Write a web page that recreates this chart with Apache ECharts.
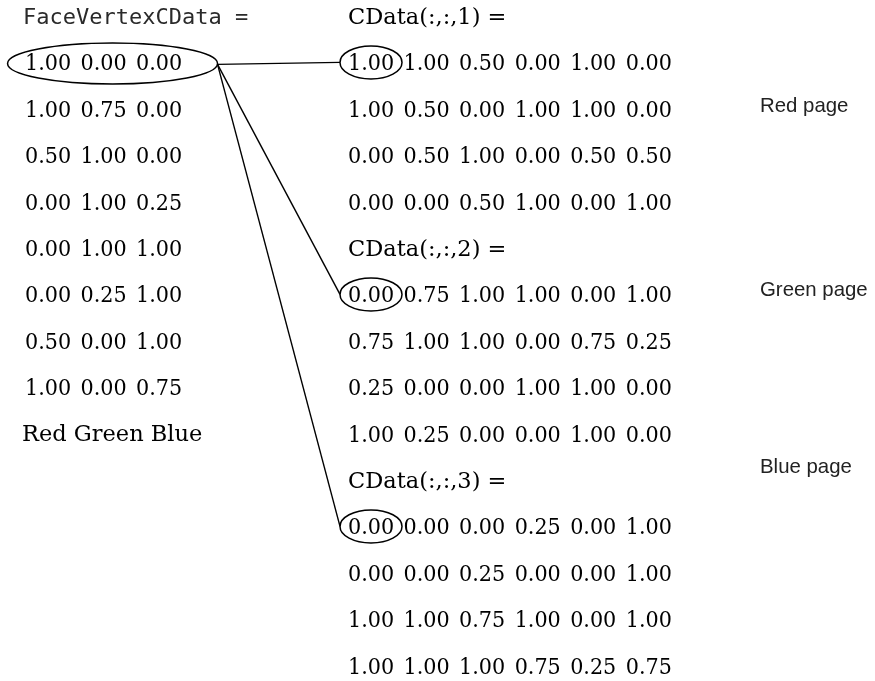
<!DOCTYPE html>
<html><head><meta charset="utf-8">
<script src="https://cdn.jsdelivr.net/npm/echarts@6/dist/echarts.min.js"></script>
<style>html,body{margin:0;padding:0;background:#fff}#chart{width:875px;height:681px}</style>
</head><body><div id="chart"></div>
<script>
// ---------------- data ----------------
const faceVertexTitle = 'FaceVertexCData =';
const faceVertexCData = [
  [1.00, 0.00, 0.00],
  [1.00, 0.75, 0.00],
  [0.50, 1.00, 0.00],
  [0.00, 1.00, 0.25],
  [0.00, 1.00, 1.00],
  [0.00, 0.25, 1.00],
  [0.50, 0.00, 1.00],
  [1.00, 0.00, 0.75]
];
const channelNames = ['Red', 'Green', 'Blue'];
const pageTitles = ['CData(:,:,1) =', 'CData(:,:,2) =', 'CData(:,:,3) ='];
const pageLabels = ['Red page', 'Green page', 'Blue page'];
const cdataRed = [
  [1.00, 1.00, 0.50, 0.00, 1.00, 0.00],
  [1.00, 0.50, 0.00, 1.00, 1.00, 0.00],
  [0.00, 0.50, 1.00, 0.00, 0.50, 0.50],
  [0.00, 0.00, 0.50, 1.00, 0.00, 1.00]
];
const cdataGreen = [
  [0.00, 0.75, 1.00, 1.00, 0.00, 1.00],
  [0.75, 1.00, 1.00, 0.00, 0.75, 0.25],
  [0.25, 0.00, 0.00, 1.00, 1.00, 0.00],
  [1.00, 0.25, 0.00, 0.00, 1.00, 0.00]
];
const cdataBlue = [
  [0.00, 0.00, 0.00, 0.25, 0.00, 1.00],
  [0.00, 0.00, 0.25, 0.00, 0.00, 1.00],
  [1.00, 1.00, 0.75, 1.00, 0.00, 1.00],
  [1.00, 1.00, 1.00, 0.75, 0.25, 0.75]
];
const pages = [cdataRed, cdataGreen, cdataBlue];

// ---------------- layout ----------------
const W = 875, H = 681;
const ROW_PITCH = 46.4, ROW0_Y = 18;
const Y_MIN = -ROW0_Y / ROW_PITCH, Y_MAX = Y_MIN + H / ROW_PITCH;
const LEFT_X0 = 25, RIGHT_X0 = 348, COL_PITCH = 55.55, NUM_W = 46;
const PAGE_LABEL_X = 760;
const PAGE_LABEL_ROWS = [1.9, 5.86, 9.68];
const ROWS_PER_PAGE = 5;

const SERIF = '23px "DejaVu Serif Condensed", "DejaVu Serif", serif';
const SERIF_LABEL = '22.5px "DejaVu Serif", serif';
const MONO = '22px "DejaVu Sans Mono"';
const SANS = '20.4px "Liberation Sans"';

const textItems = [];
textItems.push({x: LEFT_X0 - 2, y: 0, text: faceVertexTitle, font: MONO, color: '#2a2a2a'});
faceVertexCData.forEach((row, r) => row.forEach((v, c) => {
  textItems.push({x: LEFT_X0 + c * COL_PITCH, y: r + 1, text: v.toFixed(2), font: SERIF, color: '#000'});
}));
textItems.push({x: LEFT_X0 - 3, y: faceVertexCData.length + 1, text: channelNames.join(' '), font: SERIF_LABEL, color: '#000'});
pages.forEach((page, p) => {
  const base = p * ROWS_PER_PAGE;
  textItems.push({x: RIGHT_X0, y: base, text: pageTitles[p], font: SERIF_LABEL, color: '#000'});
  page.forEach((row, r) => row.forEach((v, c) => {
    textItems.push({x: RIGHT_X0 + c * COL_PITCH, y: base + r + 1, text: v.toFixed(2), font: SERIF, color: '#000'});
  }));
  textItems.push({x: PAGE_LABEL_X, y: PAGE_LABEL_ROWS[p], text: pageLabels[p], font: SANS, color: '#222'});
});

// ellipses: the first FaceVertexCData row and the first element of each page
const leftEllipse = {x: LEFT_X0 + (2 * COL_PITCH + NUM_W) / 2 + 9, y: 1, rx: 105, ry: 20.5, dy: -1};
const rightEllipses = pages.map((_, p) => ({x: RIGHT_X0 + NUM_W / 2, y: p * ROWS_PER_PAGE + 1, rx: 31, ry: 16.5, dy: -2}));
const ellipses = [leftEllipse].concat(rightEllipses);

const chart = echarts.init(document.getElementById('chart'), null, {renderer: 'canvas'});
chart.setOption({
  animation: false,
  backgroundColor: '#fff',
  grid: {left: 0, right: 0, top: 0, bottom: 0},
  xAxis: {type: 'value', min: 0, max: W, show: false},
  yAxis: {type: 'value', min: Y_MIN, max: Y_MAX, inverse: true, show: false},
  series: [
    {
      type: 'custom', silent: true,
      data: rightEllipses.map(e => [e.x, e.y]),
      renderItem: (params, api) => {
        const a = api.coord([leftEllipse.x, leftEllipse.y]);
        const e = rightEllipses[params.dataIndex];
        const b = api.coord([e.x, e.y]);
        return {type: 'line', shape: {x1: a[0] + leftEllipse.rx, y1: a[1], x2: b[0] - e.rx, y2: b[1] + e.dy},
          style: {stroke: '#000', lineWidth: 1.4}};
      }
    },
    {
      type: 'custom', silent: true,
      data: ellipses.map(e => [e.x, e.y]),
      renderItem: (params, api) => {
        const e = ellipses[params.dataIndex];
        const p = api.coord([api.value(0), api.value(1)]);
        return {type: 'ellipse', shape: {cx: p[0], cy: p[1] + e.dy, rx: e.rx, ry: e.ry},
          style: {fill: 'none', stroke: '#000', lineWidth: 1.5}};
      }
    },
    {
      type: 'custom', silent: true,
      data: textItems.map(t => [t.x, t.y]),
      renderItem: (params, api) => {
        const t = textItems[params.dataIndex];
        const p = api.coord([api.value(0), api.value(1)]);
        return {type: 'text', x: p[0], y: p[1],
          style: {text: t.text, font: t.font, fill: t.color, align: 'left', verticalAlign: 'middle'}};
      }
    }
  ]
});
</script>
</body></html>
